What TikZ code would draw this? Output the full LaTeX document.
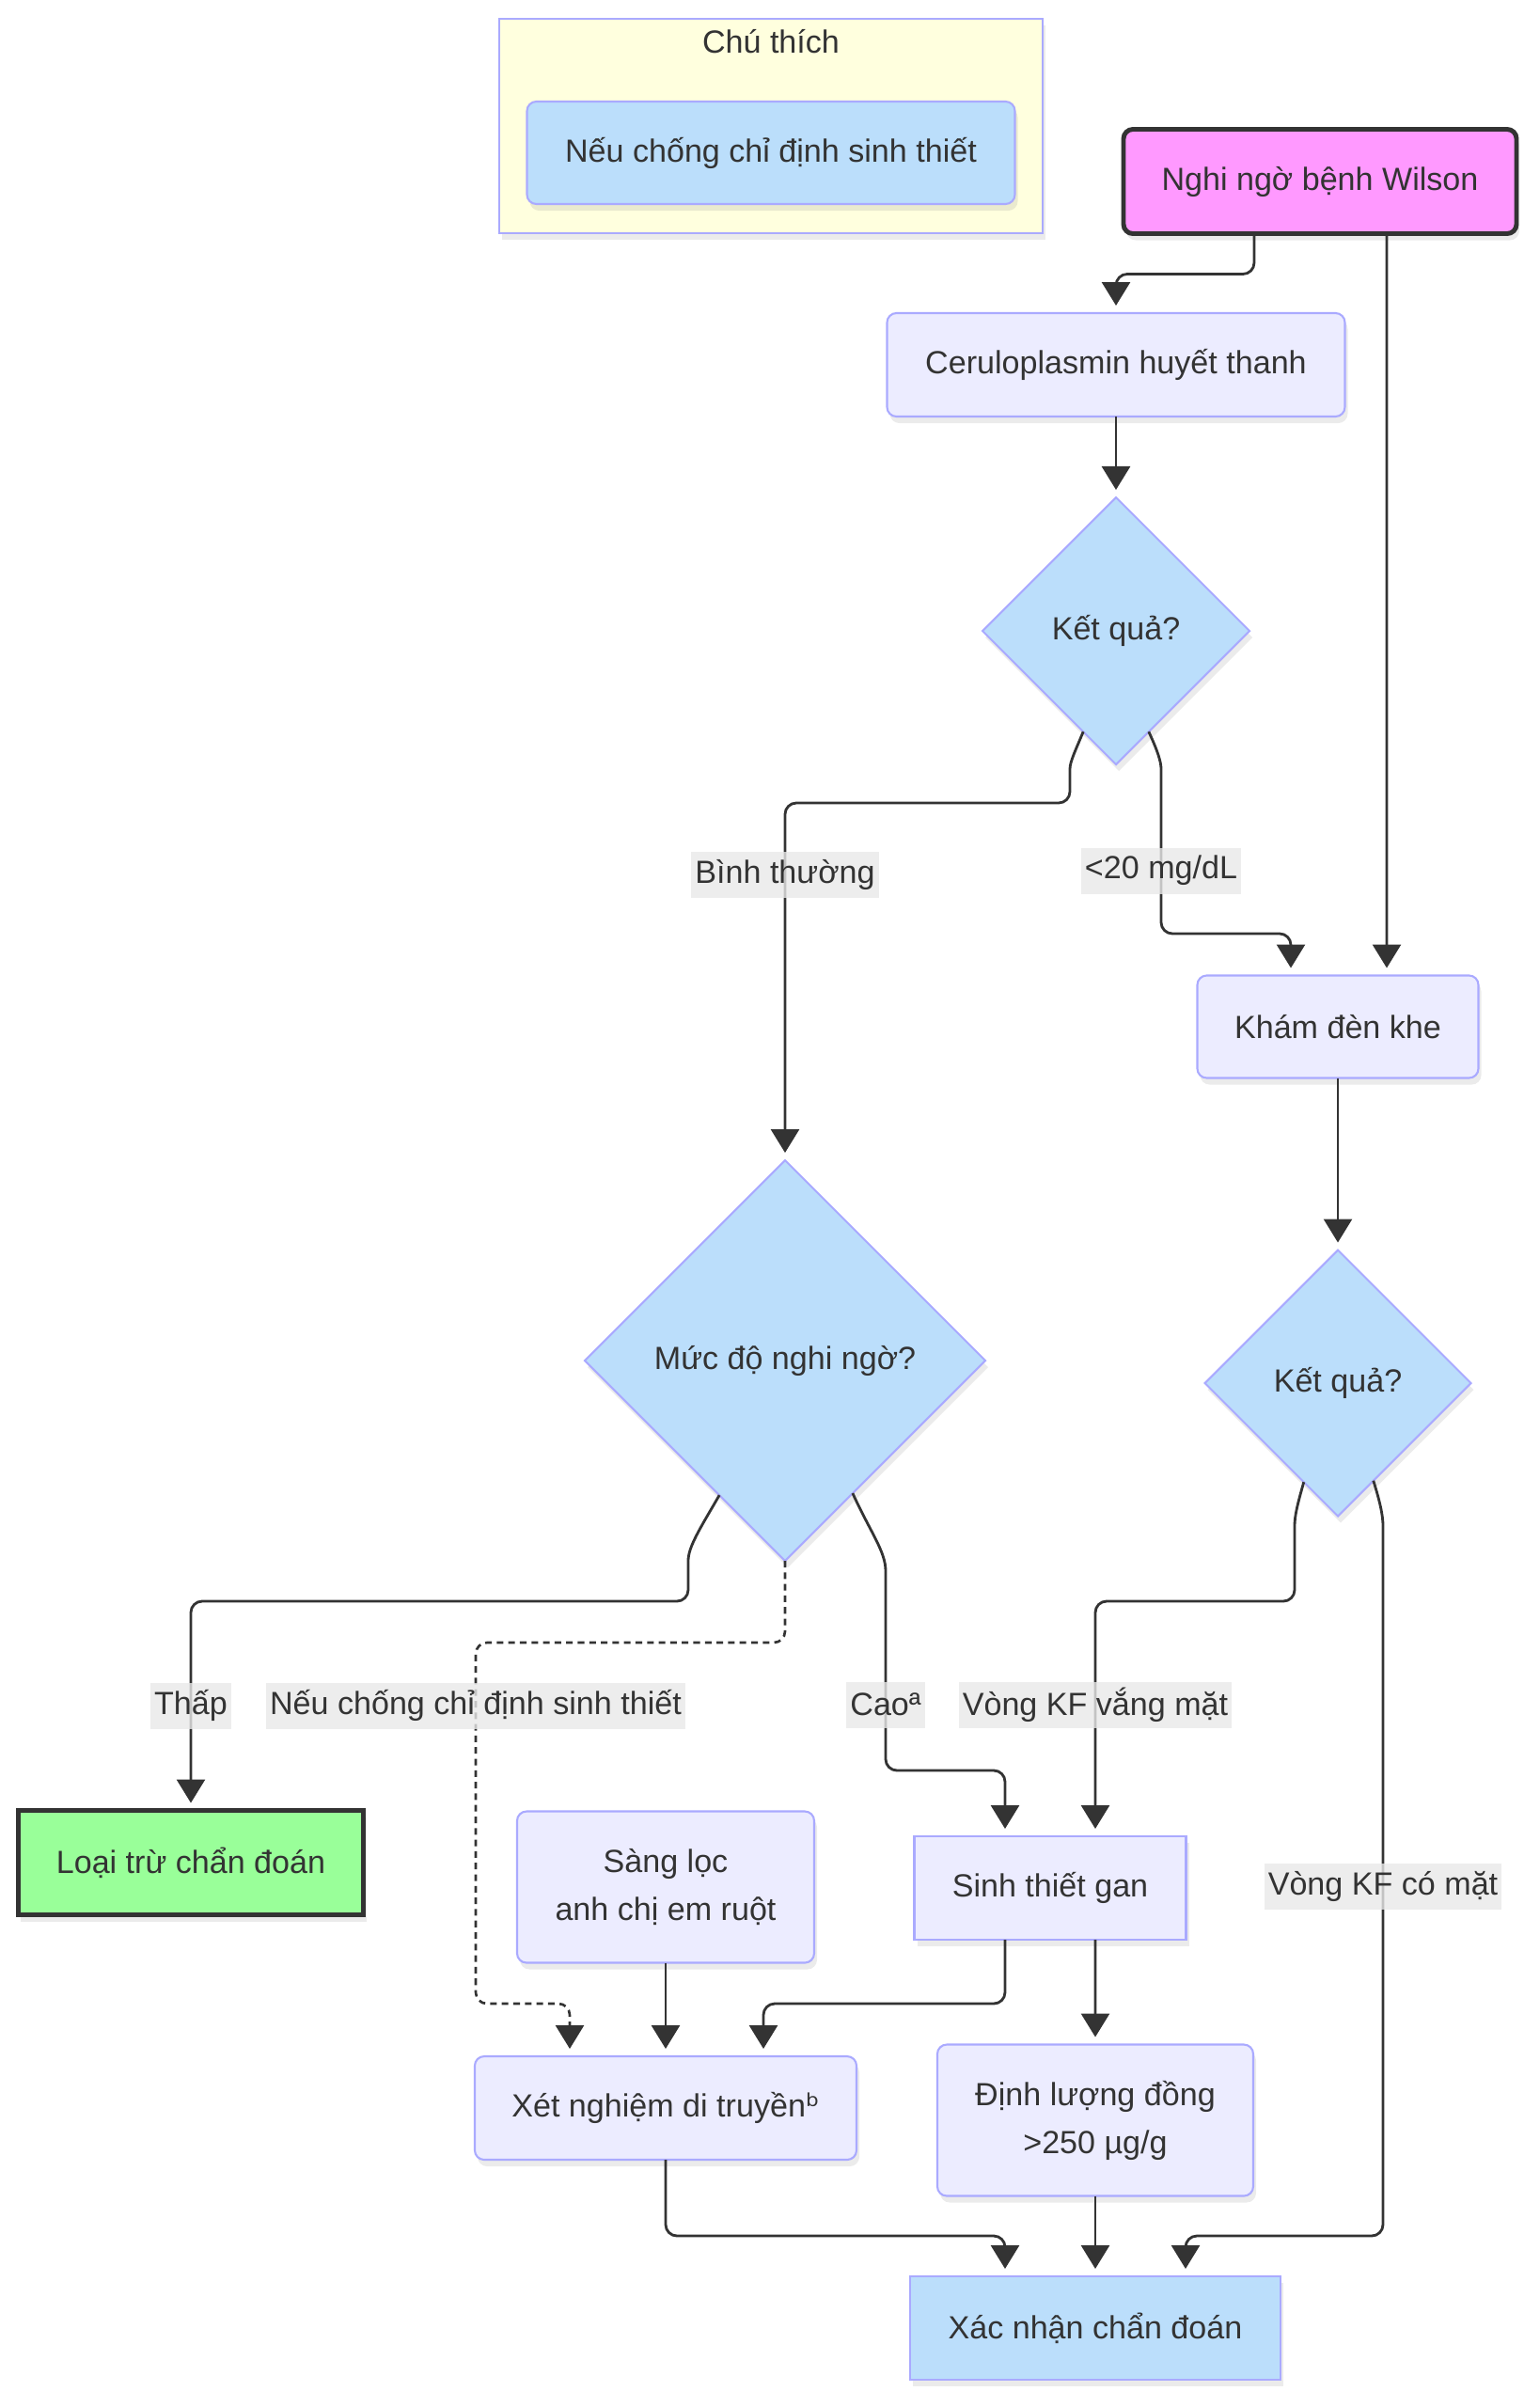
\documentclass[tikz,border=0pt]{standalone}
\usepackage{fontspec}
\setmainfont{Liberation Sans}
\newfontfamily\dejavu{DejaVu Sans}
\usetikzlibrary{arrows.meta,shapes,positioning,shadows}

\definecolor{lav}{HTML}{AAAAFF}
\definecolor{procfill}{HTML}{ECECFF}
\definecolor{bluefill}{HTML}{BBDEFB}
\definecolor{pinkfill}{HTML}{FF99FF}
\definecolor{greenfill}{HTML}{99FF99}
\definecolor{legfill}{HTML}{FFFFDE}
\definecolor{ink}{HTML}{333333}
\definecolor{lblgray}{HTML}{E8E8E8}

\begin{document}
\begin{tikzpicture}[
  >={Triangle[width=0.3cm,length=0.25cm]},
  on grid,
  font=\fontsize{9.7}{14.5}\selectfont,
  every node/.style={text=ink,outer sep=0pt},
  shade/.style={drop shadow={shadow xshift=0.03cm,shadow yshift=-0.07cm,opacity=0.16}},
  box/.style={draw=lav,line width=0.6pt,fill=procfill,rounded corners=0.1cm,minimum height=1.10cm,align=center,shade},
  square/.style={box,sharp corners},
  terminal/.style={box,draw=ink,line width=1.4pt},
  decision/.style={diamond,aspect=1,draw=lav,line width=0.6pt,fill=bluefill,inner sep=0pt,shade},
  lbl/.style={rectangle,sharp corners,fill=lblgray,fill opacity=0.8,text opacity=1,inner xsep=0.04cm,inner ysep=0pt,minimum height=0.49cm},
  link/.style={->,draw=ink,line width=0.8pt,rounded corners=0.12cm,shorten >=0.08cm},
  dotline/.style={line width=0.75pt,dash pattern=on 2pt off 1.5pt},
  ]
  \useasboundingbox (0,0) rectangle (16.38,-25.60);

  % legend
  \node[terminal, fill=pinkfill, minimum width=4.18cm, minimum height=1.11cm] (nghi) at (14.04,-1.93) {Nghi ngờ bệnh Wilson};
  \node[square, fill=legfill, minimum width=5.78cm, minimum height=2.28cm, above left = 0.59 and 5.84 of nghi] (legFrame) {};
  \node[box, fill=bluefill, minimum width=5.19cm, minimum height=1.09cm, below = 0.285 of legFrame] (legItem) {Nếu chống chỉ định sinh thiết};
  \node[above = 0.90 of legFrame] (legTitle) {Chú thích};

  % main flow
  \node[box, minimum width=4.87cm, below left = 1.95 and 2.17 of nghi] (cerulo) {Ceruloplasmin huyết thanh};
  \node[decision, minimum width=2.84cm, minimum height=2.84cm, below = 2.83 of cerulo] (kq1) {Kết quả?};
  \node[box, minimum width=2.99cm, minimum height=1.09cm, below right = 4.21 and 2.36 of kq1] (kham) {Khám đèn khe};
  \node[decision, minimum width=2.83cm, minimum height=2.83cm, below = 3.79 of kham] (kq2) {Kết quả?};
  \node[decision, minimum width=4.26cm, minimum height=4.26cm, below left = 7.76 and 3.52 of kq1] (mucdo) {Mức độ nghi ngờ?};
  \node[terminal, sharp corners, fill=greenfill, minimum width=3.67cm, minimum height=1.11cm, below left = 5.34 and 6.32 of mucdo] (loaitru) {Loại trừ chẩn đoán};
  \node[box, minimum width=3.16cm, minimum height=1.61cm, below left = 5.60 and 1.27 of mucdo] (sangloc) {Sàng lọc\\anh chị em ruột};
  \node[square, minimum width=2.89cm, below right = 5.61 and 2.82 of mucdo] (sinhthiet) {Sinh thiết gan};
  \node[box, minimum width=4.06cm, below = 2.35 of sangloc] (xetnghiem) {Xét nghiệm di truyền{\dejavu ᵇ}};
  \node[box, minimum width=3.36cm, minimum height=1.61cm, below right = 2.47 and 0.48 of sinhthiet] (dinhluong) {Định lượng đồng\\>250 µg/g};
  \node[square, fill=bluefill, minimum width=3.94cm, below = 2.21 of dinhluong] (xacnhan) {Xác nhận chẩn đoán};

  \draw [link] ([xshift=-0.70cm]nghi.south) -- ++(0,-0.43) -| (cerulo.north);
  \draw [link] ([xshift=0.71cm]nghi.south) -- ([xshift=0.52cm]kham.north);
  \draw [link] (cerulo) -- (kq1);
  \draw [link] (kq1.-108) .. controls (11.44,-7.98) and (11.38,-8.10) .. (11.38,-8.30)
    -- (11.38,-8.54) -| node[lbl,pos=0.6] {Bình thường} (mucdo.north);
  \draw [link] (kq1.-72) .. controls (12.31,-7.98) and (12.35,-8.10) .. (12.35,-8.30)
    -- node[lbl,pos=0.59] {<20 mg/dL} (12.35,-9.93) -| ([xshift=-0.50cm]kham.north);
  \draw [link] (kham) -- (kq2);
  \draw [link] (mucdo.-116) .. controls (7.45,-16.25) and (7.32,-16.45) .. (7.32,-16.72)
    -- (7.32,-17.03) -| node[lbl,pos=0.75] {Thấp} (loaitru.north);
  \draw [link,dotline] (mucdo.south) |- (5.06,-17.47)
    -- node[lbl,pos=0.175] {Nếu chống chỉ định sinh thiết} (5.06,-21.31) -| ([xshift=-1.02cm]xetnghiem.north);
  \draw [link] (mucdo.-63) .. controls (9.26,-16.30) and (9.42,-16.50) .. (9.42,-16.83)
    -- node[lbl,pos=0.65] {Caoª} (9.42,-18.83) -| ([xshift=-0.48cm]sinhthiet.north);
  \draw [link] (kq2.-109) .. controls (13.80,-16.00) and (13.77,-16.12) .. (13.77,-16.35)
    -- (13.77,-17.03) -| node[lbl,pos=0.72] {Vòng KF vắng mặt} ([xshift=0.48cm]sinhthiet.north);
  \draw [link] (kq2.-70) .. controls (14.68,-15.98) and (14.71,-16.12) .. (14.71,-16.35)
    -- node[lbl,pos=0.5] {Vòng KF có mặt} (14.71,-23.78) -| ([xshift=0.96cm]xacnhan.north);
  \draw [link] (sangloc) -- (xetnghiem);
  \draw [link] ([xshift=-0.48cm]sinhthiet.south) -- (10.69,-21.31) -| ([xshift=1.04cm]xetnghiem.north);
  \draw [link] ([xshift=0.48cm]sinhthiet.south) -- (dinhluong.north);
  \draw [link] (xetnghiem.south) -- (7.08,-23.78) -| ([xshift=-0.96cm]xacnhan.north);
  \draw [link] (dinhluong) -- (xacnhan);

\end{tikzpicture}
\end{document}
